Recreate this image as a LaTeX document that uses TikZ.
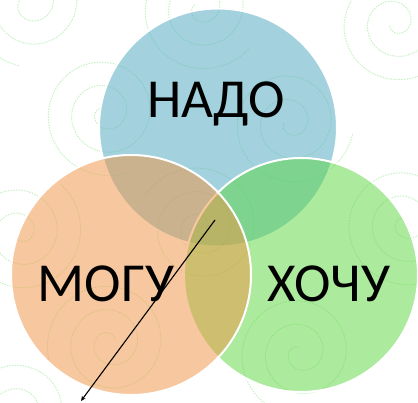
\documentclass[tikz,border=0pt]{standalone}
\usepackage{fontspec}
\setmainfont{Carlito}
\usetikzlibrary{arrows.meta}
\definecolor{cblue}{RGB}{73,167,191}
\definecolor{cgreen}{RGB}{91,215,63}
\definecolor{corange}{RGB}{241,147,65}
\definecolor{swirlc}{RGB}{200,242,196}
\tikzset{
  venn/.style={fill opacity=0.5, draw=white, line width=2pt},
  label/.style={font=\fontsize{55}{60}\selectfont, anchor=base, text=black, inner sep=0pt},
  swirl/.style={draw=swirlc, line width=1pt, dash pattern=on 1.5pt off 1.2pt},
  pointer/.style={draw=black, line width=1.1pt, -{Stealth[length=5pt,width=4.5pt]}}
}
\begin{document}
\begin{tikzpicture}[x=1pt,y=1pt]
\useasboundingbox (0,0) rectangle (418,403);
\fill[white] (0,0) rectangle (418,403);
% background swirls
\begin{scope}
\clip (0,0) rectangle (418,403);
\foreach \cx/\cy/\rot in {30/400/0, 200/395/60, 395/380/120, 105/290/30, 290/280/90, 20/170/150, 200/175/250, 405/180/40, 110/60/300, 300/50/10, 20/-10/80}{
  \draw[swirl, rotate around={\rot:(\cx,\cy)}] plot[domain=90:980, samples=90, smooth] ({\cx+0.065*\x*cos(\x)},{\cy+0.065*\x*sin(\x)});
}
\end{scope}
% circles
\path[venn, fill=cblue] (218,275.5) circle (119);
\path[venn, fill=cgreen] (301,128) circle (117);
\path[venn, fill=corange] (131,128) circle (120);
% labels
\node[label] (nado) at (216,285) {НАДО};
\node[label] (mogu) at (106,101) {МОГУ};
\node[label] (hochu) at (329,101) {ХОЧУ};
% pointer
\coordinate (pstart) at (215,183);
\coordinate (pend) at (81,2);
\draw[pointer] (pstart) -- (pend);
\end{tikzpicture}
\end{document}
